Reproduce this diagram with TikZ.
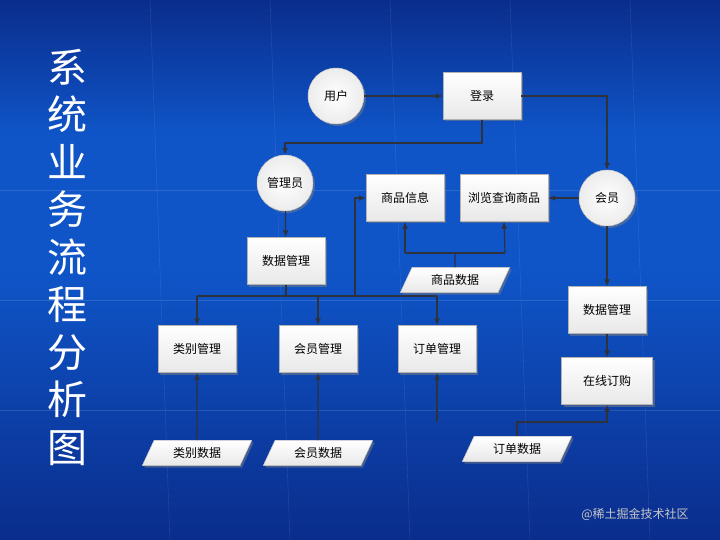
\documentclass[tikz,border=0pt]{standalone}
\usepackage{fontspec}
\newfontfamily\cjk{Noto Sans CJK SC}
\usetikzlibrary{shapes.geometric,arrows.meta,shadows}
\definecolor{bgtop}{RGB}{10,45,140}
\definecolor{bgmid}{RGB}{15,85,200}
\definecolor{ln}{RGB}{45,50,60}
\tikzset{
  box/.style={draw=gray!60,fill=white,top color=white,bottom color=gray!18,minimum width=78pt,minimum height=47pt,font=\cjk\fontsize{12}{12}\selectfont,drop shadow={opacity=0.5,shadow xshift=2pt,shadow yshift=-2pt}},
  circ/.style={circle,draw=gray!60,fill=white,inner color=white,outer color=gray!15,minimum size=56pt,font=\cjk\fontsize{12}{12}\selectfont,drop shadow={opacity=0.5,shadow xshift=2pt,shadow yshift=-2pt}},
  data/.style={trapezium,trapezium left angle=65,trapezium right angle=115,draw=gray!60,fill=white,top color=white,bottom color=gray!18,inner ysep=7pt,inner xsep=19pt,font=\cjk\fontsize{12}{12}\selectfont,drop shadow={opacity=0.5,shadow xshift=2pt,shadow yshift=-2pt}},
  conn/.style={draw=ln,line width=1.2pt,-{Latex[length=7pt,width=6pt]}},
  plain/.style={draw=ln,line width=1.2pt}
}
\begin{document}
\begin{tikzpicture}[x=1pt,y=-1pt]
\shade[top color=bgtop,bottom color=bgmid,middle color=bgmid] (0,0) rectangle (720,270);
\shade[top color=bgmid,bottom color=bgtop] (0,270) rectangle (720,540);
\useasboundingbox (0,0) rectangle (720,540);
\foreach \x in {150,270,390,510,630} \draw[white,opacity=0.12] (\x,0) -- (\x+20,540);
\foreach \y in {190,300,410} \draw[white,opacity=0.12] (0,\y) -- (720,\y);
\node (title) at (67,257) [text=white,align=center,font=\cjk\fontsize{40}{47.5}\selectfont] {系\\统\\业\\务\\流\\程\\分\\析\\图};
\node[circ] (user) at (336,96) {用户};
\node[box] (login) at (482,96) {登录};
\node[circ] (admin) at (285,183) {管理员};
\node[box] (info) at (405,198) {商品信息};
\node[box,minimum width=88pt] (browse) at (504,198) {浏览查询商品};
\node[circ] (member) at (607,198) {会员};
\node[box] (dm1) at (286,261) {数据管理};
\node[data] (gd) at (455,280) {商品数据};
\node[box] (dm2) at (607,310) {数据管理};
\node[box] (cat) at (197,349) {类别管理};
\node[box] (mem) at (318,349) {会员管理};
\node[box] (ord) at (437,349) {订单管理};
\node[box,minimum width=91pt] (buy) at (607,381) {在线订购};
\node[data] (cd) at (197,453) {类别数据};
\node[data] (md) at (318,453) {会员数据};
\node[data] (od) at (517,449) {订单数据};
\node (wm) at (635,514) [text=gray!45,font=\cjk\fontsize{12}{12}\selectfont] {@稀土掘金技术社区};
\coordinate (ordfree) at (437,422);
\coordinate (busL) at (197,296);
\coordinate (busR) at (437,296);
\draw[conn] (user) -- (login);
\draw[conn] (login.east) -| (member.north);
\draw[conn] (login.south) |- (285,143) -- (admin.north);
\draw[conn] (member) -- (browse);
\draw[conn] (admin) -- (dm1);
\draw[plain] (dm1.south) -- (286,296);
\draw[plain] (busL) -- (busR);
\draw[conn] (busL) -- (cat.north);
\draw[conn] (318,296) -- (mem.north);
\draw[conn] (busR) -- (ord.north);
\draw[conn] (355,296) |- (info.west);
\draw[plain] (gd.north) -- (455,253);
\draw[plain] (405,253) -- (505,253);
\draw[conn] (405,253) -- (info.south);
\draw[conn] (505,253) -- (browse.south);
\draw[conn] (member) -- (dm2);
\draw[conn] (dm2) -- (buy);
\draw[conn] (od.north) |- (607,422) -- (buy.south);
\draw[conn] (cd) -- (cat);
\draw[conn] (md) -- (mem);
\draw[conn] (ordfree) -- (ord.south);
\end{tikzpicture}
\end{document}
